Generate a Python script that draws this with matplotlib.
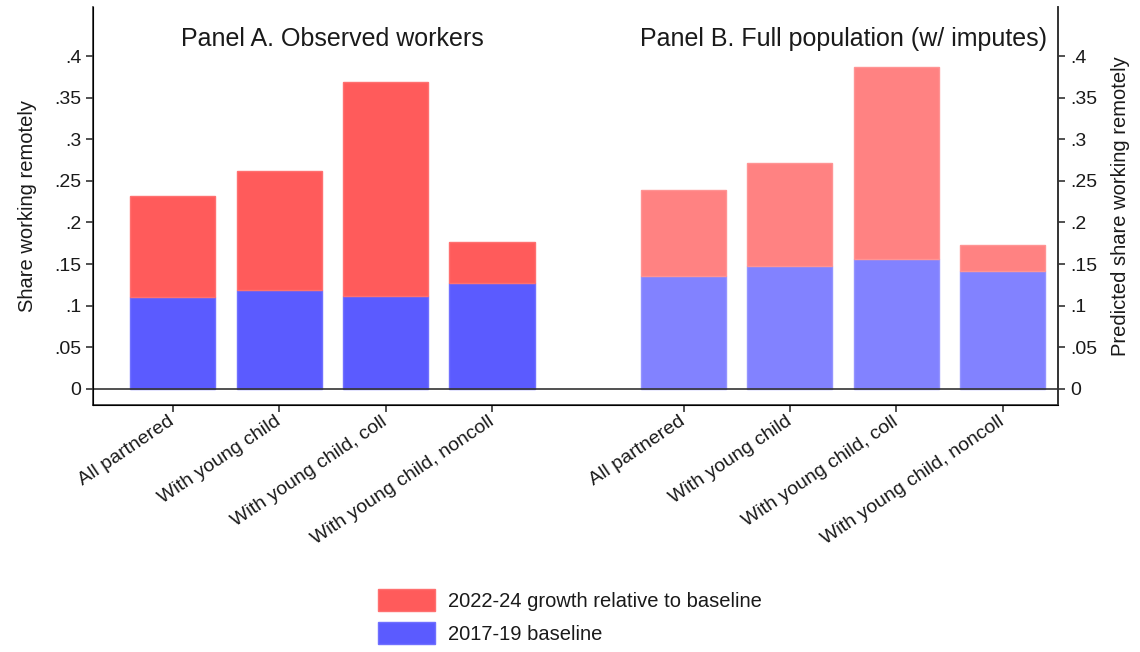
import matplotlib.pyplot as plt
import numpy as np
from matplotlib.patches import Patch

plt.rcParams['font.family'] = ['Liberation Sans', 'DejaVu Sans']

# data
groups = ["All partnered", "With young child", "With young child, coll", "With young child, noncoll"]
obs_base = [0.110, 0.119, 0.112, 0.127]
obs_total = [0.232, 0.262, 0.369, 0.177]
full_base = [0.136, 0.148, 0.156, 0.142]
full_total = [0.239, 0.271, 0.387, 0.173]
yticks = [0, 0.05, 0.1, 0.15, 0.2, 0.25, 0.3, 0.35, 0.4]
ytick_labels = ["0", ".05", ".1", ".15", ".2", ".25", ".3", ".35", ".4"]

xa = np.arange(4)
xb = np.arange(4) + 4.8
w = 0.8
dark = "#333333"
txt = "#1a1a1a"

fig = plt.figure(figsize=(11.4, 6.52), dpi=100)
ax = fig.add_axes([0.0816, 0.379, 0.8465, 0.61])

obs_growth = np.array(obs_total) - np.array(obs_base)
full_growth = np.array(full_total) - np.array(full_base)

# panel A
ax.bar(xa, obs_base, w, color="#5b5bff", edgecolor="#7070ff", linewidth=1)
ax.bar(xa, obs_growth, w, bottom=obs_base, color="#ff5b5b", edgecolor="#ff7070", linewidth=1)
# panel B (lighter)
ax.bar(xb, full_base, w, color="#8282ff", edgecolor="#9494ff", linewidth=1)
ax.bar(xb, full_growth, w, bottom=full_base, color="#ff8282", edgecolor="#ff9494", linewidth=1)

ax.axhline(0, color=dark, linewidth=1.2, zorder=3)
ax.set_xlim(-0.75, 8.32)
ax.set_ylim(-0.0195, 0.459)

ax.set_xticks(list(xa) + list(xb))
ax.set_xticklabels(groups + groups, rotation=34, ha="right", va="center",
                   rotation_mode="anchor", fontsize=14, color=txt)
ax.set_yticks(yticks)
ax.set_yticklabels(ytick_labels, fontsize=14, color=txt)
ax.set_ylabel("Share working remotely", fontsize=14.5, color=txt, labelpad=12)
ax.tick_params(axis="both", direction="out", length=5, width=1.2, color=dark)
ax.tick_params(axis="x", pad=6)

ax.spines["top"].set_visible(False)
for s in ["left", "bottom", "right"]:
    ax.spines[s].set_color(dark)
    ax.spines[s].set_linewidth(1.2)

ax2 = ax.twinx()
ax2.set_ylim(ax.get_ylim())
ax2.set_yticks(yticks)
ax2.set_yticklabels(ytick_labels, fontsize=14, color=txt)
ax2.set_ylabel("Predicted share working remotely", fontsize=14.5, color=txt, labelpad=10)
ax2.tick_params(axis="y", direction="out", length=5, width=1.2, color=dark)
ax2.spines["top"].set_visible(False)
ax2.spines["right"].set_color(dark)
ax2.spines["right"].set_linewidth(1.2)

ax.text(xa.mean(), 0.421, "Panel A. Observed workers", ha="center", va="center",
        fontsize=18, color=txt)
ax.text(xb.mean(), 0.421, "Panel B. Full population (w/ imputes)", ha="center", va="center",
        fontsize=18, color=txt)

handles = [Patch(facecolor="#ff5b5b", edgecolor="#ff7070"),
           Patch(facecolor="#5b5bff", edgecolor="#7070ff")]
fig.legend(handles, ["2022-24 growth relative to baseline", "2017-19 baseline"],
           loc="lower center", bbox_to_anchor=(0.5, 0.0), frameon=False, ncol=1,
           fontsize=14.5, handlelength=2.85, handleheight=1.3, handletextpad=0.65,
           labelspacing=0.55, borderaxespad=0.0, labelcolor=txt)

fig.savefig("out.png", dpi=100)
